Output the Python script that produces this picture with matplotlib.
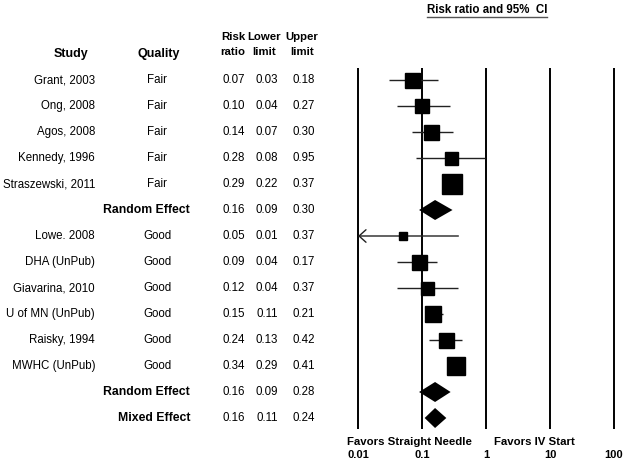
import numpy as np
import matplotlib

matplotlib.use("Agg")
import matplotlib.pyplot as plt
from matplotlib.transforms import blended_transform_factory
from matplotlib.lines import Line2D

plt.rcParams["font.family"] = ["Liberation Sans", "DejaVu Sans"]

studies = [
    "Grant, 2003", "Ong, 2008", "Agos, 2008", "Kennedy, 1996", "Straszewski, 2011",
    "Random Effect",
    "Lowe. 2008", "DHA (UnPub)", "Giavarina, 2010", "U of MN (UnPub)",
    "Raisky, 1994", "MWHC (UnPub)",
    "Random Effect", "Mixed Effect",
]
quality = ["Fair"] * 5 + [""] + ["Good"] * 6 + ["", ""]
summary = [False] * 5 + [True] + [False] * 6 + [True, True]
risk_ratio = [0.07, 0.10, 0.14, 0.28, 0.29, 0.16, 0.05, 0.09, 0.12, 0.15, 0.24, 0.34, 0.16, 0.16]
lower_limit = [0.03, 0.04, 0.07, 0.08, 0.22, 0.09, 0.01, 0.04, 0.04, 0.11, 0.13, 0.29, 0.09, 0.11]
upper_limit = [0.18, 0.27, 0.30, 0.95, 0.37, 0.30, 0.37, 0.17, 0.37, 0.21, 0.42, 0.41, 0.28, 0.24]
# relative study weight, drawn as square side (px)
weight = [15, 14, 15, 13, 20, 0, 7.5, 15, 13, 16, 15, 18, 0, 0]
ticks = [0.01, 0.1, 1, 10, 100]
tick_labels = ["0.01", "0.1", "1", "10", "100"]

W, H = 628, 469
fig = plt.figure(figsize=(W / 100, H / 100), dpi=100)
fig.patch.set_facecolor("white")


def fx(x):
    return x / W


def fy(y):
    return 1 - y / H


# forest panel: 0.01 at x=358, 100 at x=614, rows from y=80 every 26 px
ax = fig.add_axes([fx(358), fy(431), (614 - 358) / W, (431 - 67) / H])
ax.set_xscale("log")
ax.set_xlim(0.01, 100)
ax.set_ylim(len(studies) - 0.5, -0.5)
for s in ax.spines.values():
    s.set_visible(False)
ax.set_yticks([])
ax.minorticks_off()
ax.set_xticks(ticks)
ax.set_xticklabels(tick_labels, fontsize=8, fontweight="bold")
ax.tick_params(axis="x", length=0, pad=14)

ax.vlines(ticks, -0.46, len(studies) - 0.58, color="black", lw=1.4, clip_on=False)

rows = np.arange(len(studies))
for i in rows:
    rr, lo, hi = risk_ratio[i], lower_limit[i], upper_limit[i]
    if summary[i]:
        h = 10 / 26.0
        ax.fill([lo, rr, hi, rr], [i, i - h, i, i + h], color="black", lw=0, zorder=3)
        continue
    if lo <= 0.01:
        ax.annotate(
            "", xy=(0.01, i), xytext=(hi, i),
            arrowprops=dict(arrowstyle="->,head_length=0.5,head_width=0.45",
                            color="#222222", lw=1.0, mutation_scale=10,
                            shrinkA=0, shrinkB=0),
            annotation_clip=False,
        )
    else:
        ax.hlines(i, lo, hi, color="#222222", lw=1.0, zorder=2)
    ax.plot(rr, i, marker="s", ms=weight[i] * 0.72, color="black", ls="", zorder=3)

# table columns
tr = blended_transform_factory(fig.transFigure, ax.transData)
for i in rows:
    if summary[i]:
        ax.text(fx(190), i, studies[i], transform=tr, ha="right", va="center",
                fontsize=8.8, fontweight="bold")
    else:
        ax.text(fx(95), i, studies[i], transform=tr, ha="right", va="center", fontsize=8.3)
        ax.text(fx(157), i, quality[i], transform=tr, ha="center", va="center", fontsize=8.3)
    ax.text(fx(234), i, "%.2f" % risk_ratio[i], transform=tr, ha="center", va="center", fontsize=8.3)
    ax.text(fx(267), i, "%.2f" % lower_limit[i], transform=tr, ha="center", va="center", fontsize=8.3)
    ax.text(fx(304), i, "%.2f" % upper_limit[i], transform=tr, ha="center", va="center", fontsize=8.3)

# headers
fig.text(fx(71), fy(54), "Study", ha="center", va="center", fontsize=9, fontweight="bold")
fig.text(fx(159), fy(54), "Quality", ha="center", va="center", fontsize=9, fontweight="bold")
for x, top, bottom in [(233, "Risk", "ratio"), (264, "Lower", "limit"), (302, "Upper", "limit")]:
    fig.text(fx(x), fy(37), top, ha="center", va="center", fontsize=8.2, fontweight="bold")
    fig.text(fx(x), fy(52), bottom, ha="center", va="center", fontsize=8.2, fontweight="bold")

fig.text(fx(487), fy(10), "Risk ratio and 95%  CI", ha="center", va="center",
         fontsize=8.3, fontweight="bold")
fig.add_artist(Line2D([fx(427), fx(547)], [fy(17.5), fy(17.5)], color="#555555", lw=1.0))

fig.text(fx(409), fy(442), "Favors Straight Needle", ha="center", va="center",
         fontsize=8.2, fontweight="bold")
fig.text(fx(534), fy(442), "Favors IV Start", ha="center", va="center",
         fontsize=8.2, fontweight="bold")

fig.savefig("out.png", dpi=100)
plt.close(fig)
